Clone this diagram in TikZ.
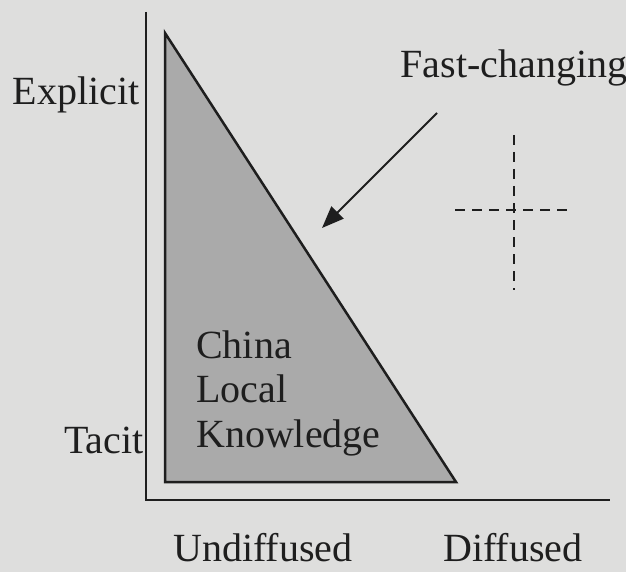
\documentclass[tikz,border=0pt]{standalone}
\usepackage{fontspec}
\setmainfont{Liberation Serif}
\usetikzlibrary{arrows.meta}
\definecolor{bg}{RGB}{222,222,221}
\definecolor{tri}{RGB}{170,170,170}
\definecolor{ink}{RGB}{30,30,30}
\begin{document}
\begin{tikzpicture}[x=1pt,y=-1pt,
  lbl/.style={inner sep=0pt,font=\fontsize{40}{44.5}\selectfont,text=ink},
  axis/.style={draw=ink,line width=2pt},
  dsh/.style={draw=ink,line width=2pt,dash pattern=on 10pt off 7pt}]
\fill[bg] (0,0) rectangle (626,572);
\useasboundingbox (0,0) rectangle (626,572);
% axes
\coordinate (top) at (146,12);
\coordinate (origin) at (146,500);
\coordinate (right) at (610,500);
\draw[axis] (top) -- (origin) -- (right);
% triangle
\coordinate (A) at (165,33);
\coordinate (B) at (165,482);
\coordinate (C) at (456,482);
\filldraw[fill=tri,draw=ink,line width=2.5pt,line join=miter] (A) -- (B) -- (C) -- cycle;
% labels
\node[lbl] (explicit) at (76,95) {Explicit};
\node[lbl] (tacit) at (104,440) {Tacit};
\node[lbl] (fast) at (514,68) {Fast-changing};
\node[lbl,align=left,anchor=west] (china) at (196,393) {China\\Local\\Knowledge};
\node[lbl] (undiff) at (263,548) {Undiffused};
\node[lbl] (diff) at (513,548) {Diffused};
% arrow
\coordinate (as) at (437,113);
\coordinate (ae) at (322,228);
\draw[draw=ink,line width=2pt,-{Triangle[length=22pt,width=17pt]}] (as) -- (ae);
% dashed cross
\coordinate (v1) at (514,135);
\coordinate (v2) at (514,290);
\coordinate (h1) at (455,210);
\coordinate (h2) at (567,210);
\draw[dsh] (v1) -- (v2);
\draw[dsh] (h1) -- (h2);
\end{tikzpicture}
\end{document}
